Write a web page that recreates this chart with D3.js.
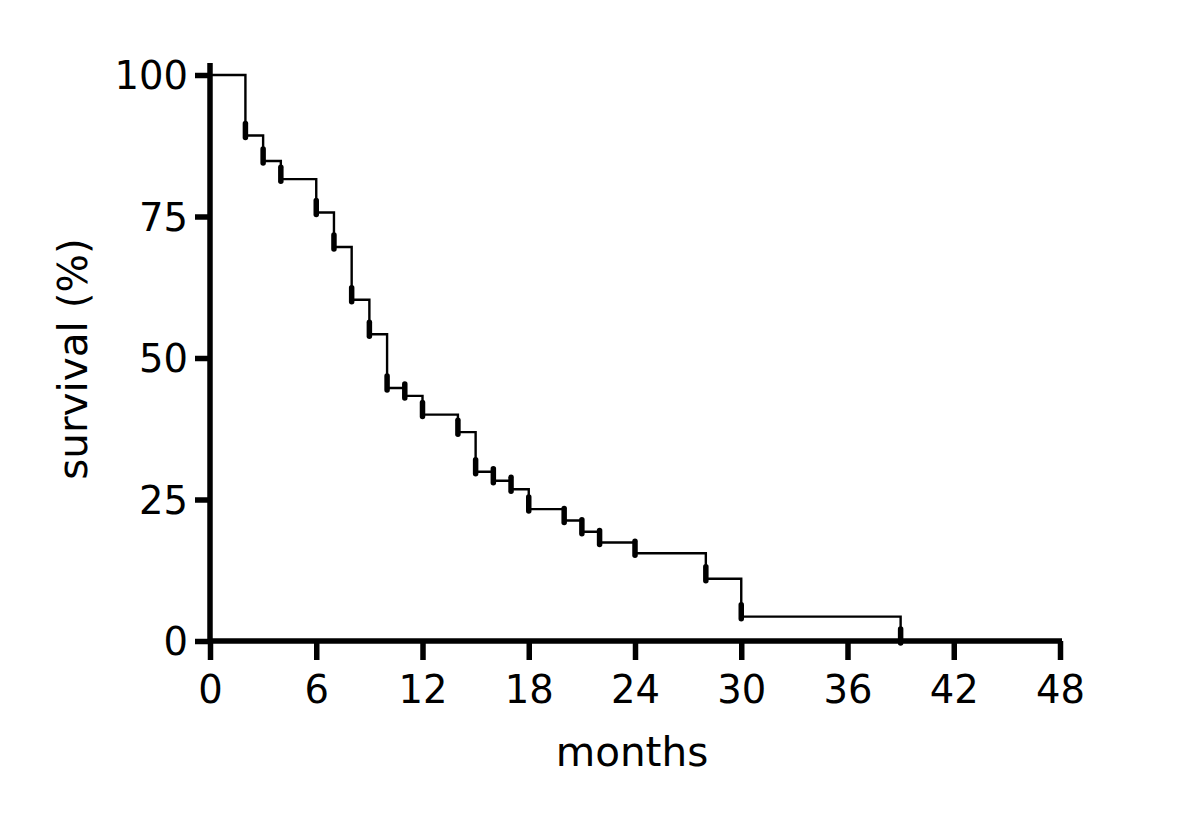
<!DOCTYPE html>
<html>
<head>
<meta charset="utf-8">
<script src="https://cdn.jsdelivr.net/npm/d3@7"></script>
<style>
  body { margin: 0; background: #fff; }
  text { font-family: "DejaVu Sans", Verdana, sans-serif; fill: #000; }
</style>
</head>
<body>
<div id="chart"></div>
<script>
// Kaplan-Meier survival, values
const months   = [0, 2, 3, 4, 6, 7, 8, 9, 10, 11, 12, 14, 15, 16, 17, 18, 20, 21, 22, 24, 28, 30, 39]
const survival = [100, 89.3, 84.8, 81.6, 75.7, 69.6, 60.3, 54.2, 44.7, 43.3, 40.0, 36.9, 29.9, 28.3, 26.8, 23.3, 21.3, 19.3, 17.4, 15.5, 11.0, 4.3, 0]
// censored marks at these times
const censored = [2, 3, 4, 6, 7, 8, 9, 10, 11, 12, 14, 15, 16, 17, 18, 20, 21, 22, 24, 28, 30, 39]
const xTicks = [0, 6, 12, 18, 24, 30, 36, 42, 48]
const yTicks = [0, 25, 50, 75, 100]

const width = 1200, height = 820

const svg = d3.select("#chart")
  .append("svg")
  .attr("width", width)
  .attr("height", height)

const x = d3.scaleLinear().domain([0, 48]).range([210, 1060])
const y = d3.scaleLinear().domain([0, 100]).range([641, 75])

const data = months.map((m, i) => ({ t: m, s: survival[i] }))
const levelAt = t => survival[months.indexOf(t)]

// axes
const xAxis = svg.append("g")
  .attr("transform", "translate(0," + y(0) + ")")
  .call(d3.axisBottom(x).tickValues(xTicks).tickSize(19).tickSizeOuter(0).tickPadding(15))
const yAxis = svg.append("g")
  .attr("transform", "translate(" + x(0) + ",0)")
  .call(d3.axisLeft(y).tickValues(yTicks).tickSize(15).tickSizeOuter(0).tickPadding(7))

;[xAxis, yAxis].forEach(g => {
  g.select(".domain").remove()
  g.selectAll(".tick line").attr("stroke", "#000").attr("stroke-width", 5.5)
  g.selectAll(".tick text")
    .attr("fill", "#000")
    .style("font-family", '"DejaVu Sans", Verdana, sans-serif')
    .style("font-size", "38.5px")
})
yAxis.selectAll(".tick text").attr("dy", "0.36em")
xAxis.selectAll(".tick text").attr("dy", "0.72em")

// axis lines (y runs a little above 100)
svg.append("line")
  .attr("x1", x(0)).attr("x2", x(0))
  .attr("y1", y(100) - 12).attr("y2", y(0))
  .attr("stroke", "#000").attr("stroke-width", 5.5)
svg.append("line")
  .attr("x1", x(0) - 2).attr("x2", x(48) + 2)
  .attr("y1", y(0)).attr("y2", y(0))
  .attr("stroke", "#000").attr("stroke-width", 5.5)

// survival step line
svg.append("path")
  .datum(data)
  .attr("fill", "none")
  .attr("stroke", "#000")
  .attr("stroke-width", 2.4)
  .attr("d", d3.line()
    .x(d => x(d.t))
    .y(d => y(d.s))
    .curve(d3.curveStepAfter))

// censor ticks
svg.selectAll(".censor")
  .data(censored)
  .join("line")
  .attr("class", "censor")
  .attr("x1", d => x(d)).attr("x2", d => x(d))
  .attr("y1", d => y(levelAt(d)) + 2)
  .attr("y2", d => y(levelAt(d)) - 12)
  .attr("stroke", "#000")
  .attr("stroke-width", 5.5)
  .attr("stroke-linecap", "round")

// titles
svg.append("text")
  .attr("x", (x(0) + x(48)) / 2 - 3)
  .attr("y", 766)
  .attr("text-anchor", "middle")
  .style("font-size", "40.5px")
  .text("months")

svg.append("text")
  .attr("transform", "translate(87," + 359 + ") rotate(-90)")
  .attr("text-anchor", "middle")
  .style("font-size", "40.5px")
  .text("survival (%)")
</script>
</body>
</html>
